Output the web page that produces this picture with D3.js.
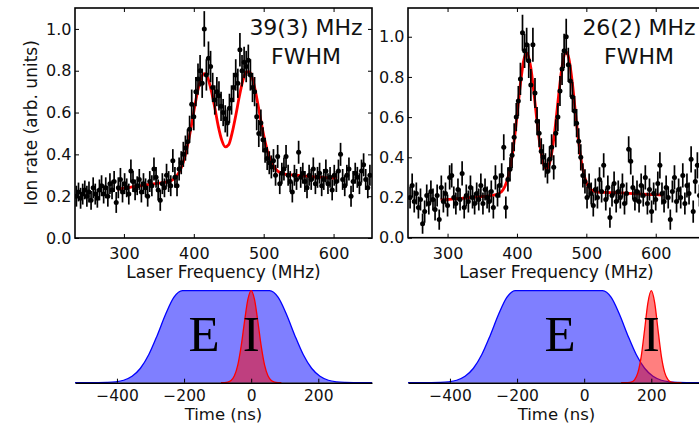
<!DOCTYPE html>
<html>
<head>
<meta charset="utf-8">
<script src="https://cdn.jsdelivr.net/npm/d3@7"></script>
<style>
  html, body { margin: 0; padding: 0; background: #fff; }
  svg { display: block; font-family: "DejaVu Sans", sans-serif; }
</style>
</head>
<body>
<svg id="chart" width="699" height="425"></svg>
<script>
// ---- Resonance scans: [laser frequency (MHz), ion rate (arb. units), error] ----
const scanWide = [
  [232,.20,.05],[235,.22,.045],[238,.19,.05],[241,.21,.05],[244,.23,.045],[247,.20,.05],[250,.22,.05],[253,.18,.045],
  [256,.24,.05],[259,.21,.05],[262,.19,.045],[265,.23,.05],[268,.25,.05],[271,.21,.045],[274,.24,.05],[277,.20,.05],
  [280,.26,.05],[283,.23,.045],[286,.27,.05],[289,.17,.05],[292,.24,.05],[295,.28,.055],[298,.22,.05],[301,.26,.05],
  [304,.24,.045],[307,.21,.05],[310,.32,.055],[313,.27,.05],[316,.23,.05],[319,.25,.045],[322,.28,.05],[325,.22,.05],
  [328,.26,.05],[331,.24,.045],[334,.20,.05],[337,.27,.05],[340,.25,.05],[343,.33,.055],[346,.29,.05],[349,.23,.05],
  [352,.18,.05],[355,.26,.05],[358,.24,.045],[361,.30,.055],[364,.27,.05],[367,.25,.05],[370,.37,.055],[373,.29,.05],
  [376,.25,.05],[379,.33,.055],[382,.36,.055],[385,.40,.06],[388,.43,.06],[391,.46,.06],[394,.52,.065],[397,.64,.07],
  [400,.58,.065],[403,.70,.07],[406,.76,.075],[409,.80,.075],[412,.74,.07],[415,1.00,.085],[418,.78,.075],[421,.86,.08],
  [424,.82,.075],[427,.72,.07],[430,.66,.07],[433,.70,.07],[436,.68,.07],[439,.63,.07],[442,.60,.065],[445,.57,.065],
  [448,.55,.065],[451,.62,.07],[454,.66,.07],[457,.72,.07],[460,.78,.075],[463,.74,.07],[466,.90,.08],[469,.80,.075],
  [472,.84,.075],[475,.82,.075],[478,.85,.075],[481,.78,.075],[484,.72,.07],[487,.70,.07],[490,.58,.065],[493,.50,.065],
  [496,.55,.065],[499,.47,.06],[502,.42,.06],[505,.38,.055],[508,.36,.055],[511,.34,.055],[514,.37,.055],[517,.30,.05],
  [520,.39,.055],[523,.26,.05],[526,.31,.05],[529,.33,.055],[532,.39,.055],[535,.30,.05],[538,.27,.05],[541,.22,.05],
  [544,.30,.05],[547,.28,.05],[550,.41,.055],[553,.29,.05],[556,.31,.05],[559,.27,.05],[562,.24,.05],[565,.30,.05],
  [568,.28,.05],[571,.33,.055],[574,.26,.05],[577,.29,.05],[580,.31,.05],[583,.25,.05],[586,.28,.05],[589,.32,.055],
  [592,.26,.05],[595,.29,.05],[598,.23,.05],[601,.30,.05],[604,.27,.05],[607,.32,.055],[610,.40,.055],[613,.28,.05],
  [616,.25,.05],[619,.30,.05],[622,.33,.055],[625,.20,.05],[628,.27,.05],[631,.31,.05],[634,.29,.05],[637,.26,.05],
  [640,.32,.055],[643,.35,.055],[646,.28,.05],[649,.24,.05],[652,.30,.05]
];

const scanNarrow = [
  [246,.20,.055],[249,.26,.06],[252,.18,.055],[255,.22,.055],[258,.15,.055],[261,.19,.055],[264,.07,.05],[267,.13,.055],
  [270,.21,.055],[273,.17,.055],[276,.23,.055],[279,.19,.055],[282,.14,.055],[285,.21,.055],[288,.09,.05],[291,.25,.06],
  [294,.18,.055],[297,.22,.055],[300,.16,.055],[303,.30,.06],[306,.31,.06],[309,.20,.055],[312,.17,.055],[315,.24,.055],
  [318,.19,.055],[321,.32,.06],[324,.15,.055],[327,.21,.055],[330,.18,.055],[333,.25,.06],[336,.20,.055],[339,.17,.055],
  [342,.22,.055],[345,.19,.055],[348,.26,.06],[351,.17,.055],[354,.24,.055],[357,.20,.055],[360,.18,.055],[363,.23,.055],
  [366,.15,.055],[369,.30,.06],[372,.21,.055],[375,.26,.06],[378,.31,.06],[381,.45,.065],[384,.15,.055],[387,.29,.06],
  [390,.34,.06],[393,.41,.065],[396,.50,.07],[399,.60,.07],[402,.68,.075],[405,.79,.08],[408,1.02,.09],[411,.93,.085],
  [414,.96,.085],[417,.88,.085],[420,.76,.08],[423,.96,.085],[426,.72,.075],[429,.58,.07],[432,.52,.07],[435,.43,.065],
  [438,.40,.065],[441,.36,.06],[444,.33,.06],[447,.39,.065],[450,.45,.065],[453,.35,.06],[456,.52,.07],[459,.60,.07],
  [462,.73,.075],[465,.84,.08],[468,.93,.085],[471,1.00,.09],[474,.86,.085],[477,.78,.08],[480,.70,.075],[483,.63,.075],
  [486,.57,.07],[489,.48,.065],[492,.40,.065],[495,.31,.06],[498,.28,.06],[501,.20,.055],[504,.26,.06],[507,.22,.055],
  [510,.16,.055],[513,.24,.055],[516,.20,.055],[519,.29,.06],[522,.23,.055],[525,.36,.06],[528,.19,.055],[531,.25,.06],
  [534,.10,.05],[537,.21,.055],[540,.27,.06],[543,.18,.055],[546,.23,.055],[549,.20,.055],[552,.26,.06],[555,.17,.055],
  [558,.22,.055],[561,.44,.065],[564,.38,.065],[567,.25,.06],[570,.19,.055],[573,.23,.055],[576,.18,.055],[579,.26,.06],
  [582,.21,.055],[585,.30,.06],[588,.17,.055],[591,.24,.055],[594,.13,.055],[597,.22,.055],[600,.19,.055],[603,.27,.06],
  [606,.36,.065],[609,.22,.055],[612,.18,.055],[615,.25,.06],[618,.20,.055],[621,.09,.05],[624,.23,.055],[627,.30,.06],
  [630,.18,.055],[633,.24,.055],[636,.20,.055],[639,.31,.06],[642,.17,.055],[645,.26,.06],[648,.22,.055],[651,.39,.065],
  [654,.13,.055],[657,.28,.06],[660,.36,.065],[663,.21,.055],[666,.27,.06],[669,.24,.055]
];

// ---- Double-peak fits: [frequency (MHz), fitted ion rate] ----
const fitWide = [
  [290,.232],[300,.238],[310,.243],[320,.248],[330,.253],[340,.258],[350,.262],[360,.267],[365,.272],[370,.279],
  [375,.295],[380,.321],[385,.363],[390,.427],[395,.509],[400,.604],[405,.694],[410,.760],[415,.786],[420,.765],
  [425,.705],[430,.624],[435,.535],[440,.468],[445,.436],[450,.447],[455,.505],[460,.585],[465,.674],[470,.750],
  [475,.794],[480,.794],[485,.749],[490,.671],[495,.579],[500,.491],[505,.420],[510,.370],[515,.338],[520,.320],
  [525,.311],[530,.306],[540,.302],[550,.299],[560,.296],[570,.293],[580,.291],[590,.289],[600,.287],[605,.286]
];

const fitNarrow = [
  [290,.188],[300,.190],[310,.193],[320,.196],[330,.199],[340,.202],[350,.205],[360,.208],[370,.214],[375,.222],
  [380,.239],[385,.276],[390,.343],[395,.453],[400,.604],[405,.765],[410,.886],[414,.920],[420,.846],[425,.704],
  [430,.545],[435,.419],[440,.351],[442.5,.342],[445,.351],[450,.419],[455,.546],[460,.706],[465,.851],[471,.924],
  [475,.889],[480,.765],[485,.599],[490,.447],[495,.338],[500,.275],[505,.245],[510,.233],[515,.228],[520,.226],
  [530,.225],[540,.224],[550,.223],[560,.221],[570,.219],[580,.217],[590,.215],[600,.214],[610,.212]
];

// ---- Pulse timing: excitation envelope (E) and ionisation pulse (I) ----
const excitationTime  = [-525,-455,-430,-405,-380,-355,-330,-305,-280,-255,-230,-205,55,80,105,130,155,180,205,230,255,280,305,360];
const excitationLevel = [0,.0006,.0025,.0088,.0267,.0697,.157,.306,.514,.744,.929,1,1,.929,.744,.514,.306,.157,.0697,.0267,.0088,.0025,.0006,0];

const ionTimeOverlap  = [-90,-80,-70,-60,-50,-40,-30,-20,-10,0,10,20,30,40,50,60,70,80,90];
const ionLevelOverlap = [0,.0013,.0063,.0243,.0756,.191,.395,.662,.902,1,.902,.662,.395,.191,.0756,.0243,.0063,.0013,0];

const ionTimeDelayed  = [110,120,130,140,150,160,170,180,190,200,210,220,230,240,250,260,270,280,290];
const ionLevelDelayed = [0,0,.0011,.0068,.0313,.109,.287,.575,.871,1,.871,.575,.287,.109,.0313,.0068,.0011,0,0];

// ---- Axis ticks and labels ----
const freqTicks = [300, 400, 500, 600];
const rateTicks = [0, 0.2, 0.4, 0.6, 0.8, 1.0];
const timeTicks = [-400, -200, 0, 200];
const widthLabels = [["39(3) MHz", "FWHM"], ["26(2) MHz", "FWHM"]];

const svg = d3.select("#chart");
const fmtMinus = d => (d < 0 ? "\u2212" + Math.abs(d) : String(d));

function scanPanel(cfg) {
  const x = d3.scaleLinear().domain(cfg.xDomain).range([cfg.left, cfg.right]);
  const y = d3.scaleLinear().domain(cfg.yDomain).range([cfg.bottom, cfg.top]);
  const g = svg.append("g");

  g.append("clipPath").attr("id", cfg.id)
    .append("rect")
    .attr("x", cfg.left).attr("y", cfg.top)
    .attr("width", cfg.right - cfg.left).attr("height", cfg.bottom - cfg.top);

  const plot = g.append("g").attr("clip-path", `url(#${cfg.id})`);

  // fit curve underneath the measured points
  plot.append("path")
    .datum(cfg.fit)
    .attr("fill", "none")
    .attr("stroke", "#ff0000")
    .attr("stroke-width", 2.8)
    .attr("d", d3.line().x(d => x(d[0])).y(d => y(d[1])).curve(d3.curveMonotoneX));

  plot.append("g").selectAll("line").data(cfg.scan).join("line")
    .attr("x1", d => x(d[0])).attr("x2", d => x(d[0]))
    .attr("y1", d => y(d[1] - d[2])).attr("y2", d => y(d[1] + d[2]))
    .attr("stroke", "#000").attr("stroke-width", 1.7);

  plot.append("g").selectAll("circle").data(cfg.scan).join("circle")
    .attr("cx", d => x(d[0])).attr("cy", d => y(d[1]))
    .attr("r", 2.5).attr("fill", "#000");

  const styleAxis = sel => {
    sel.select(".domain").remove();
    sel.selectAll(".tick line").attr("stroke", "#000").attr("stroke-width", 1);
    sel.selectAll("text").attr("fill", "#111").attr("font-size", 16)
      .attr("font-family", "DejaVu Sans, sans-serif");
  };

  g.append("g").attr("transform", `translate(0,${cfg.bottom})`)
    .call(d3.axisBottom(x).tickValues(freqTicks).tickSizeInner(-4).tickSizeOuter(0).tickPadding(10))
    .call(styleAxis);
  g.append("g").attr("transform", `translate(0,${cfg.top})`)
    .call(d3.axisTop(x).tickValues(freqTicks).tickSizeInner(-4).tickSizeOuter(0).tickFormat(""))
    .call(styleAxis);
  g.append("g").attr("transform", `translate(${cfg.left},0)`)
    .call(d3.axisLeft(y).tickValues(rateTicks).tickFormat(d3.format(".1f")).tickSizeInner(-4).tickSizeOuter(0).tickPadding(3.5))
    .call(styleAxis);
  g.append("g").attr("transform", `translate(${cfg.right},0)`)
    .call(d3.axisRight(y).tickValues(rateTicks).tickSizeInner(-4).tickSizeOuter(0).tickFormat(""))
    .call(styleAxis);

  g.append("rect")
    .attr("x", cfg.left).attr("y", cfg.top)
    .attr("width", cfg.right - cfg.left).attr("height", cfg.bottom - cfg.top)
    .attr("fill", "none").attr("stroke", "#000").attr("stroke-width", 1.6);

  const cx = cfg.left + 231;
  g.append("text").attr("x", cx).attr("y", 35).attr("text-anchor", "middle")
    .attr("font-size", 22).attr("fill", "#111").text(cfg.labels[0]);
  g.append("text").attr("x", cx).attr("y", 64).attr("text-anchor", "middle")
    .attr("font-size", 22).attr("fill", "#111").text(cfg.labels[1]);

  g.append("text").attr("x", (cfg.left + cfg.right) / 2).attr("y", 278)
    .attr("text-anchor", "middle").attr("font-size", 17).attr("fill", "#111")
    .text("Laser Frequency (MHz)");

  if (cfg.yLabel) {
    g.append("text")
      .attr("transform", `translate(37,${(cfg.top + cfg.bottom) / 2}) rotate(-90)`)
      .attr("text-anchor", "middle").attr("font-size", 17).attr("fill", "#111")
      .text(cfg.yLabel);
  }
}

function timingPanel(cfg) {
  const x = d3.scaleLinear().domain([-525, 360]).range([cfg.left, cfg.right]);
  const y = d3.scaleLinear().domain([0, 1]).range([382.7, 290.7]);
  const g = svg.append("g");

  const area = d3.area().x(d => x(d[0])).y0(y(0)).y1(d => y(d[1])).curve(d3.curveMonotoneX);
  const line = d3.line().x(d => x(d[0])).y(d => y(d[1])).curve(d3.curveMonotoneX);

  const excitation = d3.zip(excitationTime, excitationLevel);
  const ion = d3.zip(cfg.ionTime, cfg.ionLevel);

  g.append("path").datum(excitation).attr("d", area).attr("fill", "rgba(0,0,255,0.5)");
  g.append("path").datum(excitation).attr("d", line).attr("fill", "none")
    .attr("stroke", "#0000ff").attr("stroke-width", 1.3);
  g.append("path").datum(ion).attr("d", area).attr("fill", "rgba(255,0,0,0.5)");
  g.append("path").datum(ion).attr("d", line).attr("fill", "none")
    .attr("stroke", "#ff0000").attr("stroke-width", 1.3);

  const serif = "Liberation Serif, DejaVu Serif, serif";
  g.append("text").attr("x", cfg.eX).attr("y", 351).attr("text-anchor", "middle")
    .attr("font-family", serif).attr("font-size", 51).attr("fill", "#000").text("E");
  g.append("text").attr("x", x(cfg.iAt)).attr("y", 351).attr("text-anchor", "middle")
    .attr("font-family", serif).attr("font-size", 51).attr("fill", "#000").text("I");

  const axis = g.append("g").attr("transform", `translate(0,${y(0)})`)
    .call(d3.axisBottom(x).tickValues(timeTicks).tickFormat(fmtMinus)
      .tickSizeInner(-4).tickSizeOuter(0).tickPadding(7));
  axis.select(".domain").attr("stroke", "#000").attr("stroke-width", 1.6);
  axis.selectAll(".tick line").attr("stroke", "#000");
  axis.selectAll("text").attr("fill", "#111").attr("font-size", 15.5)
    .attr("font-family", "DejaVu Sans, sans-serif");

  g.append("text").attr("x", (cfg.left + cfg.right) / 2).attr("y", 420)
    .attr("text-anchor", "middle").attr("font-size", 16.5).attr("fill", "#111")
    .text("Time (ns)");
}

scanPanel({
  id: "clip-wide", left: 75, right: 372, top: 8, bottom: 238,
  xDomain: [230, 655], yDomain: [0, 1.1],
  scan: scanWide, fit: fitWide, labels: widthLabels[0],
  yLabel: "Ion rate (arb. units)"
});
scanPanel({
  id: "clip-narrow", left: 408, right: 705, top: 8, bottom: 237.7,
  xDomain: [243, 671], yDomain: [0, 1.143],
  scan: scanNarrow, fit: fitNarrow, labels: widthLabels[1]
});

timingPanel({ left: 75, right: 372, ionTime: ionTimeOverlap, ionLevel: ionLevelOverlap, eX: 204, iAt: 0 });
timingPanel({ left: 408, right: 705, ionTime: ionTimeDelayed, ionLevel: ionLevelDelayed, eX: 560, iAt: 200 });
</script>
</body>
</html>
